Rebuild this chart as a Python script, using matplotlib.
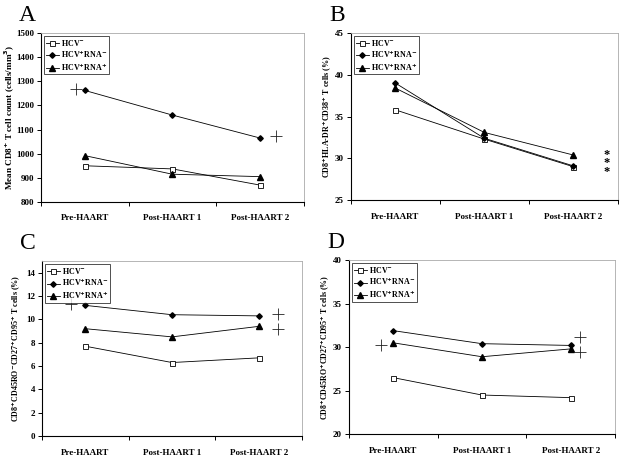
import matplotlib
matplotlib.use("Agg")
import matplotlib.pyplot as plt
import numpy as np

plt.rcParams['font.family'] = ['Liberation Serif', 'DejaVu Serif']
plt.rcParams['font.weight'] = 'bold'

categories = ["Pre-HAART", "Post-HAART 1", "Post-HAART 2"]
series_names = ["HCV$^{-}$", "HCV$^{+}$RNA$^{-}$", "HCV$^{+}$RNA$^{+}$"]

# Panel A
a_hcvneg = [950, 937, 870]
a_rnaneg = [1262, 1160, 1065]
a_rnapos = [992, 915, 905]
a_plus_x = [-0.10, 2.18]
a_plus_y = [1268, 1072]

# Panel B
b_hcvneg = [35.8, 32.3, 29.0]
b_rnaneg = [39.0, 32.4, 29.1]
b_rnapos = [38.4, 33.1, 30.4]

# Panel C
c_hcvneg = [7.7, 6.3, 6.7]
c_rnaneg = [11.2, 10.4, 10.3]
c_rnapos = [9.2, 8.5, 9.4]
c_plus_x = [-0.17, 2.22, 2.22]
c_plus_y = [11.3, 10.5, 9.2]

# Panel D
d_hcvneg = [26.5, 24.5, 24.2]
d_rnaneg = [31.9, 30.4, 30.2]
d_rnapos = [30.5, 28.9, 29.8]
d_plus_x = [-0.14, 2.11, 2.11]
d_plus_y = [30.2, 31.2, 29.5]

W, H = 624, 458
fig = plt.figure(figsize=(W / 100, H / 100), dpi=100)

panels = [
    dict(pos=[0.0657, 0.559, 0.421, 0.369], letter="A", data=(a_hcvneg, a_rnaneg, a_rnapos),
         ylim=(800, 1500), yticks=np.arange(800, 1501, 100),
         ylabel="Mean CD8$^{+}$ T cell count (cells/mm$^{3}$)", lab_off=31, lab_fs=6.6,
         plus=(a_plus_x, a_plus_y)),
    dict(pos=[0.5625, 0.563, 0.4275, 0.365], letter="B", data=(b_hcvneg, b_rnaneg, b_rnapos),
         ylim=(25, 45), yticks=np.arange(25, 46, 5),
         ylabel="CD8$^{+}$HLA-DR$^{+}$CD38$^{+}$ T cells (%)", lab_off=24, lab_fs=5.8,
         plus=None),
    dict(pos=[0.0673, 0.048, 0.4167, 0.382], letter="C", data=(c_hcvneg, c_rnaneg, c_rnapos),
         ylim=(0, 15), yticks=np.arange(0, 15, 2),
         ylabel="CD8$^{+}$CD45RO$^{-}$CD27$^{+}$CD95$^{+}$ T cells (%)", lab_off=26, lab_fs=5.8,
         plus=(c_plus_x, c_plus_y)),
    dict(pos=[0.559, 0.052, 0.4266, 0.380], letter="D", data=(d_hcvneg, d_rnaneg, d_rnapos),
         ylim=(20, 40), yticks=np.arange(20, 41, 5),
         ylabel="CD8$^{+}$CD45RO$^{+}$CD27$^{+}$CD95$^{+}$ T cells (%)", lab_off=23, lab_fs=5.7,
         plus=(d_plus_x, d_plus_y)),
]

markers = [dict(marker='s', mfc='white', mec='black', ms=3.6, mew=0.6),
           dict(marker='D', mfc='black', mec='black', ms=2.8),
           dict(marker='^', mfc='black', mec='black', ms=3.8)]

x = np.arange(len(categories))
for p in panels:
    ax = fig.add_axes(p['pos'])
    for vals, name, mk in zip(p['data'], series_names, markers):
        ax.plot(x, vals, color='black', lw=0.6, label=name, **mk)
    if p['plus'] is not None:
        ax.plot(p['plus'][0], p['plus'][1], linestyle='none', marker='+',
                ms=9, mew=0.6, color='#222222')
    ax.set_xlim(-0.5, 2.5)
    ax.set_ylim(*p['ylim'])
    ax.set_yticks(p['yticks'])
    ax.set_xticks(x)
    ax.set_xticklabels(categories, fontsize=6.5, fontweight='bold')
    ax.set_xticks([-0.5, 0.5, 1.5, 2.5], minor=True)
    ax.tick_params(axis='x', which='major', length=0, pad=9)
    ax.tick_params(axis='x', which='minor', length=3, width=0.7, direction='out')
    ax.tick_params(axis='y', labelsize=6.5, length=3, width=0.7, direction='out', pad=2)
    for lab in ax.get_yticklabels():
        lab.set_fontweight('bold')
    for s in ['top', 'right']:
        ax.spines[s].set_color('#aaaaaa')
        ax.spines[s].set_linewidth(0.6)
    for s in ['left', 'bottom']:
        ax.spines[s].set_color('black')
        ax.spines[s].set_linewidth(0.8)
    ax.set_ylabel(p['ylabel'], fontsize=p['lab_fs'], fontweight='bold', va='center')
    ax.yaxis.set_label_coords(-p['lab_off'] / (p['pos'][2] * W), 0.5)
    leg = ax.legend(loc='upper left', frameon=True, fancybox=False,
                    handlelength=1.6, borderpad=0.2, labelspacing=0.1,
                    handletextpad=0.3, borderaxespad=0.4, prop={'weight': 'bold', 'size': 5.8})
    leg.get_frame().set_edgecolor('black')
    leg.get_frame().set_linewidth(0.6)
    fig.text(p['pos'][0] - 0.035, p['pos'][1] + p['pos'][3] + 0.015, p['letter'],
             fontsize=17, fontweight='normal', va='bottom', ha='left')
    if p['letter'] == 'B':
        ax.text(2.37, 29.4, '*\n*\n*', fontsize=9, ha='center', va='center',
                fontweight='bold', linespacing=0.6)

fig.savefig("out.png", dpi=100)
